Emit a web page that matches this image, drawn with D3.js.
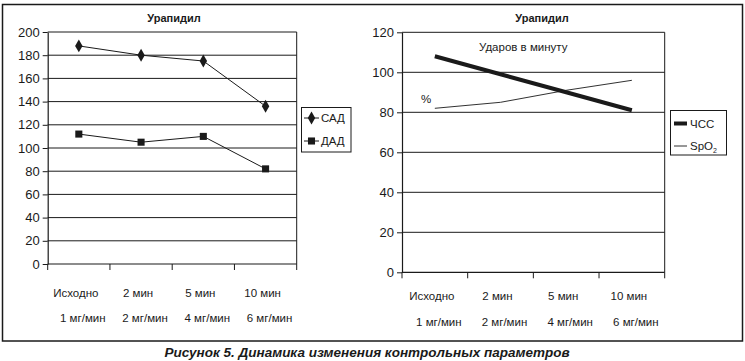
<!DOCTYPE html>
<html>
<head>
<meta charset="utf-8">
<script src="https://cdn.jsdelivr.net/npm/d3@7"></script>
<style>
  body { margin: 0; background: #fff; }
  svg text { font-family: "Liberation Sans", Arial, sans-serif; fill: #1a1a1a; }
</style>
</head>
<body>
<svg id="chart" width="745" height="361"></svg>
<script>
// Data
const categories = ['Исходно', '2 мин', '5 мин', '10 мин'];
const doses = ['1 мг/мин', '2 мг/мин', '4 мг/мин', '6 мг/мин'];
const sad = [188, 180, 175, 136];   // САД
const dad = [112, 105, 110, 82];    // ДАД
const hr = [108, 99, 90, 81];       // ЧСС
const spo2 = [82, 85, 91, 96];      // SpO2
const bpTicks = [0, 20, 40, 60, 80, 100, 120, 140, 160, 180, 200];
const hrTicks = [0, 20, 40, 60, 80, 100, 120];

const svg = d3.select('#chart');
const ink = '#1a1a1a';

// outer frame
svg.append('rect')
  .attr('x', 2.5).attr('y', 4.5)
  .attr('width', 740).attr('height', 336.5)
  .attr('fill', 'none').attr('stroke', ink).attr('stroke-width', 1.5);

// caption
svg.append('text')
  .attr('x', 367).attr('y', 357)
  .attr('text-anchor', 'middle')
  .style('font-size', '13.5px').style('font-weight', 'bold').style('font-style', 'italic')
  .text('Рисунок 5. Динамика изменения контрольных параметров');

// draws one panel: frame, grid, axes, labels; returns scales
function panel(opt) {
  const g = svg.append('g');
  const x = d3.scaleBand().domain(categories).range([opt.x0, opt.x1]);
  const y = d3.scaleLinear().domain([0, opt.max]).range([opt.y0, opt.y1]);

  g.append('text')
    .attr('x', opt.titleX).attr('y', 22)
    .attr('text-anchor', 'middle')
    .style('font-size', '11px').style('font-weight', 'bold')
    .text('Урапидил');

  // gridlines
  g.selectAll('.grid')
    .data(opt.ticks.filter(d => d > 0))
    .enter().append('line')
    .attr('x1', opt.x0).attr('x2', opt.x1)
    .attr('y1', d => y(d)).attr('y2', d => y(d))
    .attr('stroke', ink).attr('stroke-width', 1);

  // right border of plot area
  g.append('line')
    .attr('x1', opt.x1).attr('x2', opt.x1)
    .attr('y1', y(opt.max)).attr('y2', y(0))
    .attr('stroke', ink);

  // y axis
  const yAxis = d3.axisLeft(y).tickValues(opt.ticks).tickSize(5).tickPadding(3).tickSizeOuter(0);
  const ya = g.append('g').attr('transform', 'translate(' + opt.x0 + ',0)').call(yAxis);
  ya.select('.domain').attr('stroke', ink).attr('stroke-width', 1.2);
  ya.selectAll('line').attr('stroke', ink);
  ya.selectAll('text').style('font-size', '13px').style('font-family', '"Liberation Sans", Arial, sans-serif').attr('fill', ink);

  // x axis with ticks on category boundaries
  const xa = g.append('g');
  xa.append('line')
    .attr('x1', opt.x0).attr('x2', opt.x1)
    .attr('y1', y(0)).attr('y2', y(0))
    .attr('stroke', ink).attr('stroke-width', 1.2);
  const bounds = categories.map(c => x(c)).concat([opt.x1]);
  xa.selectAll('.xt')
    .data(bounds)
    .enter().append('line')
    .attr('x1', d => d).attr('x2', d => d)
    .attr('y1', y(0)).attr('y2', y(0) + 6)
    .attr('stroke', ink);

  xa.selectAll('.lab1')
    .data(categories)
    .enter().append('text')
    .attr('x', d => x(d) + x.bandwidth() / 2 - 3)
    .attr('y', opt.row1)
    .attr('text-anchor', 'middle')
    .style('font-size', '11.5px')
    .text(d => d);

  xa.selectAll('.lab2')
    .data(doses)
    .enter().append('text')
    .attr('x', (d, i) => x(categories[i]) + x.bandwidth() / 2 + 4)
    .attr('y', opt.row2)
    .attr('text-anchor', 'middle')
    .style('font-size', '11.5px')
    .text(d => d);

  return { g, x, y };
}

// ---- left panel: blood pressure
const L = panel({ x0: 47.7, x1: 296.7, y0: 264, y1: 32, max: 200, ticks: bpTicks,
  titleX: 174, row1: 297, row2: 322 });

const lineL = d3.line()
  .x((d, i) => L.x(categories[i]) + L.x.bandwidth() / 2)
  .y(d => L.y(d));

[[sad, d3.symbolDiamond, 48], [dad, d3.symbolSquare, 50]].forEach(function (s) {
  L.g.append('path')
    .attr('d', lineL(s[0]))
    .attr('fill', 'none').attr('stroke', ink).attr('stroke-width', 1);
  L.g.selectAll(null)
    .data(s[0])
    .enter().append('path')
    .attr('d', d3.symbol().type(s[1]).size(s[2]))
    .attr('transform', (d, i) => 'translate(' + (L.x(categories[i]) + L.x.bandwidth() / 2) + ',' + L.y(d) + ')')
    .attr('fill', ink);
});

// left legend
const legL = svg.append('g');
legL.append('rect')
  .attr('x', 301.5).attr('y', 107.5).attr('width', 49.5).attr('height', 44.5)
  .attr('fill', '#fff').attr('stroke', ink);
[['САД', d3.symbolDiamond, 48, 118], ['ДАД', d3.symbolSquare, 50, 141]].forEach(function (s) {
  legL.append('line')
    .attr('x1', 304).attr('x2', 319).attr('y1', s[3]).attr('y2', s[3])
    .attr('stroke', ink);
  legL.append('path')
    .attr('d', d3.symbol().type(s[1]).size(s[2]))
    .attr('transform', 'translate(311.5,' + s[3] + ')')
    .attr('fill', ink);
  legL.append('text')
    .attr('x', 321).attr('y', s[3] + 4)
    .style('font-size', '11.5px')
    .text(s[0]);
});

// ---- right panel: heart rate and SpO2
const R = panel({ x0: 402, x1: 664.7, y0: 272.3, y1: 32.3, max: 120, ticks: hrTicks,
  titleX: 542, row1: 300, row2: 326 });

const lineR = d3.line()
  .x((d, i) => R.x(categories[i]) + R.x.bandwidth() / 2)
  .y(d => R.y(d));

R.g.append('path')
  .attr('d', lineR(hr))
  .attr('fill', 'none').attr('stroke', ink).attr('stroke-width', 4);
R.g.append('path')
  .attr('d', lineR(spo2))
  .attr('fill', 'none').attr('stroke', ink).attr('stroke-width', 0.9);

R.g.append('text')
  .attr('x', 479).attr('y', 51)
  .style('font-size', '11.5px')
  .text('Ударов в минуту');
R.g.append('text')
  .attr('x', 421).attr('y', 103)
  .style('font-size', '11.5px')
  .text('%');

// right legend
const legR = svg.append('g');
legR.append('rect')
  .attr('x', 670.5).attr('y', 110.5).attr('width', 56).attr('height', 44.5)
  .attr('fill', '#fff').attr('stroke', ink);
legR.append('line')
  .attr('x1', 674).attr('x2', 687).attr('y1', 123.5).attr('y2', 123.5)
  .attr('stroke', ink).attr('stroke-width', 4);
legR.append('text')
  .attr('x', 690).attr('y', 127.5)
  .style('font-size', '11.5px')
  .text('ЧСС');
legR.append('line')
  .attr('x1', 674).attr('x2', 687).attr('y1', 146).attr('y2', 146)
  .attr('stroke', ink).attr('stroke-width', 0.9);
const sp = legR.append('text')
  .attr('x', 690).attr('y', 150)
  .style('font-size', '11.5px');
sp.append('tspan').text('SpO');
sp.append('tspan').attr('dy', 3).style('font-size', '7px').text('2');
</script>
</body>
</html>
